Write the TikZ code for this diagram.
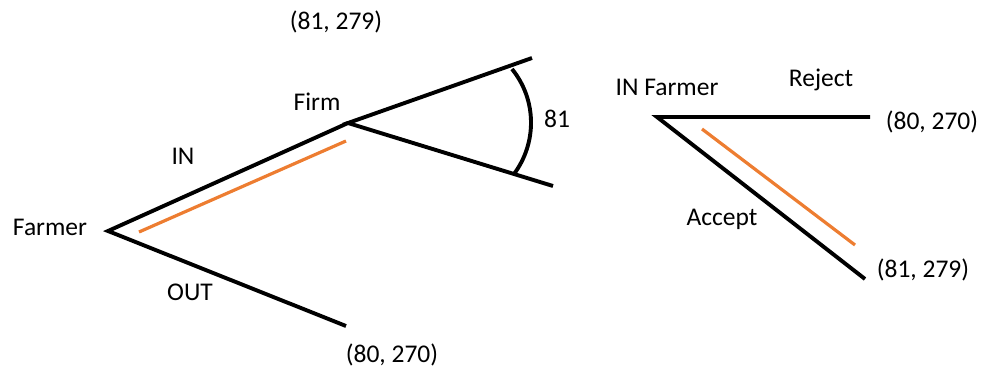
\documentclass[tikz,border=0pt]{standalone}
\usepackage{fontspec}
\setmainfont{Carlito}
\definecolor{offorange}{HTML}{ED7D31}
\begin{document}
\begin{tikzpicture}[x=1pt,y=-1pt,
  branch/.style={line width=3.9pt},
  hilite/.style={line width=3.2pt,draw=offorange},
  lbl/.style={inner sep=0pt,font=\fontsize{25.5}{30}\selectfont}]
\useasboundingbox (0,0) rectangle (981,369);
% coordinates
\coordinate (farmer) at (108,231);
\coordinate (firm) at (348,123);
\coordinate (firmup) at (532,58);
\coordinate (firmdn) at (553,186);
\coordinate (out) at (346,326);
\coordinate (o1a) at (139,232);
\coordinate (o1b) at (346,141);
\coordinate (arcA) at (512,69);
\coordinate (arcB) at (514,174);
\coordinate (inf) at (657,117);
\coordinate (rej) at (870,117);
\coordinate (acc) at (865,279);
\coordinate (o2a) at (702,129);
\coordinate (o2b) at (855,245);
% branches
\draw[branch] (firm) -- (farmer) -- (out);
\draw[branch] (firmup) -- (firm) -- (firmdn);
\draw[branch] (arcA) .. controls (537,100) and (537,143) .. (arcB);
\draw[hilite] (o1a) -- (o1b);
\draw[branch] (rej) -- (inf) -- (acc);
\draw[hilite] (o2a) -- (o2b);
% labels
\node[lbl] (tFarmer) at (50,227) {Farmer};
\node[lbl] (tIN) at (183,156) {IN};
\node[lbl] (tOUT) at (190,292) {OUT};
\node[lbl] (tFirm) at (317,102) {Firm};
\node[lbl] (tTop) at (336,22) {(81, 279)};
\node[lbl] (tBot) at (392,355) {(80, 270)};
\node[lbl] (t81) at (557,119) {81};
\node[lbl] (tINF) at (667,87) {IN Farmer};
\node[lbl] (tRej) at (821,80) {Reject};
\node[lbl] (tR1) at (932,122) {(80, 270)};
\node[lbl] (tAcc) at (722,219) {Accept};
\node[lbl] (tR2) at (923,270) {(81, 279)};
\end{tikzpicture}
\end{document}
